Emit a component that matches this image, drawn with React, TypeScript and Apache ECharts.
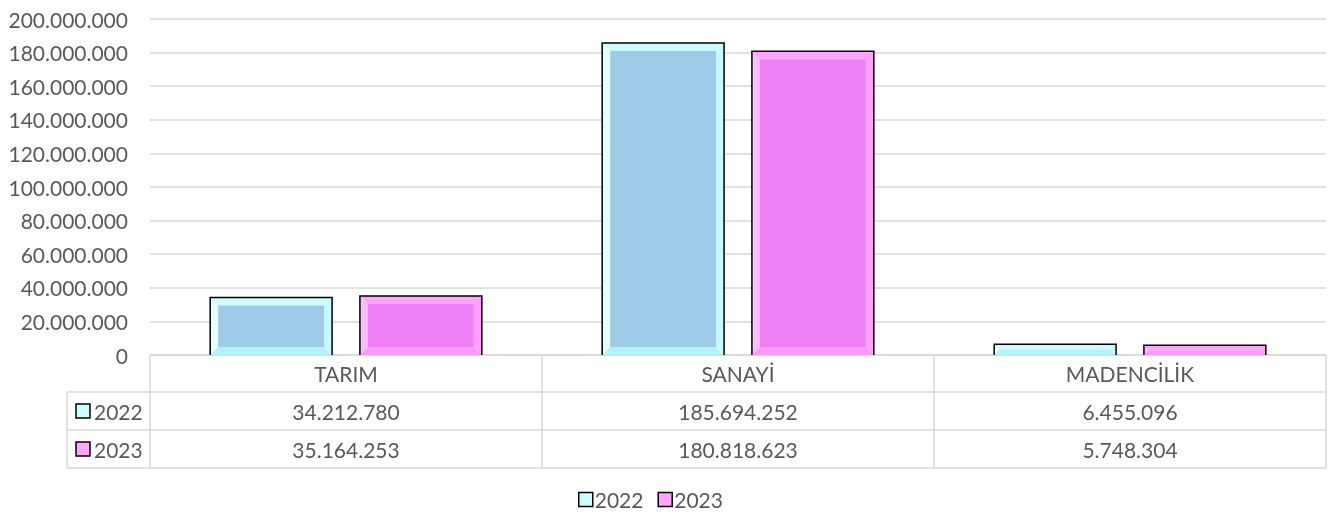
import React, { useEffect, useRef } from "react";
import * as echarts from "echarts";

const categories = ["TARIM", "SANAYİ", "MADENCİLİK"];
const seriesNames = ["2022", "2023"];
const values2022 = [34212780, 185694252, 6455096];
const values2023 = [35164253, 180818623, 5748304];
const yTicks = { min: 0, max: 200000000, interval: 20000000 };

const palettes = [
  { top: "#cdfcff", left: "#e8ffff", right: "#c6f8ff", bottom: "#b6f0fd", inner: "#a0cbe8" },
  { top: "#ffa4ff", left: "#ffbcff", right: "#ffa0ff", bottom: "#f89af8", inner: "#ef7ff5" },
];

const fmt = (n: number) => String(n).replace(/\B(?=(\d{3})+(?!\d))/g, ".");

const FONT = "Lato";
const FS = 21;
const TXT = "#595959";
const GRID = "#d9d9d9";

export default function App() {
  const ref = useRef<HTMLDivElement>(null);
  useEffect(() => {
    if (!ref.current) return;
    const chart = echarts.init(ref.current, null, { renderer: "svg" });

    const makeRender = (sIdx: number) => (params: any, api: any) => {
      const ci = api.value(0);
      const v = api.value(1);
      const base = api.coord([ci, 0]);
      const topPt = api.coord([ci, v]);
      const band = api.size([1, 0])[0];
      const w = band * 0.311;
      const gap = band * 0.071;
      const x = sIdx === 0 ? base[0] - gap / 2 - w : base[0] + gap / 2;
      const y = topPt[1];
      const h = base[1] - topPt[1];
      const d = Math.min(8, h / 2);
      const p = palettes[sIdx];
      return {
        type: "group",
        children: [
          { type: "polygon", shape: { points: [[x, y], [x + w, y], [x + w - d, y + d], [x + d, y + d]] }, style: { fill: p.top } },
          { type: "polygon", shape: { points: [[x, y], [x + d, y + d], [x + d, y + h - d], [x, y + h]] }, style: { fill: p.left } },
          { type: "polygon", shape: { points: [[x + w, y], [x + w, y + h], [x + w - d, y + h - d], [x + w - d, y + d]] }, style: { fill: p.right } },
          { type: "polygon", shape: { points: [[x, y + h], [x + d, y + h - d], [x + w - d, y + h - d], [x + w, y + h]] }, style: { fill: p.bottom } },
          { type: "rect", shape: { x: x + d, y: y + d, width: Math.max(0, w - 2 * d), height: Math.max(0, h - 2 * d) }, style: { fill: p.inner } },
          { type: "polyline", shape: { points: [[x, y + h], [x, y], [x + w, y], [x + w, y + h]] }, style: { fill: "none", stroke: "#000", lineWidth: 1.5 } },
        ],
      };
    };

    const tableLine = (x1: number, y1: number, x2: number, y2: number) => ({
      type: "line",
      shape: { x1, y1, x2, y2 },
      style: { stroke: GRID, lineWidth: 1.5 },
      silent: true,
    });

    const legendKey = (x: number, y: number, p: any) => ({
      type: "rect",
      shape: { x, y, width: 14, height: 14 },
      style: { fill: p.top, stroke: "#000", lineWidth: 1.5 },
    });

    const labelStyle = { color: TXT, fontFamily: FONT, fontSize: FS, lineHeight: 20, interval: 0 };

    chart.setOption({
      animation: false,
      grid: { left: 150, right: 10, top: 19, bottom: 163, containLabel: false },
      xAxis: [
        {
          type: "category",
          data: categories,
          position: "bottom",
          axisLine: { show: true, lineStyle: { color: GRID, width: 1.5 } },
          axisTick: { show: true, length: 113, interval: 0, lineStyle: { color: GRID, width: 1.5 } },
          axisLabel: { margin: 8, ...labelStyle },
        },
        {
          type: "category",
          data: values2022.map(fmt),
          position: "bottom",
          offset: 37,
          axisLine: { show: false },
          axisTick: { show: false },
          axisLabel: { margin: 9, ...labelStyle },
        },
        {
          type: "category",
          data: values2023.map(fmt),
          position: "bottom",
          offset: 75,
          axisLine: { show: false },
          axisTick: { show: false },
          axisLabel: { margin: 9, ...labelStyle },
        },
      ],
      yAxis: {
        type: "value",
        min: yTicks.min,
        max: yTicks.max,
        interval: yTicks.interval,
        axisLine: { show: false },
        axisTick: { show: false },
        splitLine: { lineStyle: { color: GRID, width: 1.5 } },
        axisLabel: { margin: 22, color: TXT, fontFamily: FONT, fontSize: FS, formatter: (v: number) => fmt(v) },
      },
      legend: {
        bottom: 3,
        left: 573,
        itemWidth: 14,
        itemHeight: 14,
        itemGap: 14,
        textStyle: { color: TXT, fontFamily: FONT, fontSize: FS, padding: [0, 0, 0, -3] },
        data: seriesNames.map((n, i) => ({
          name: n,
          icon: "rect",
          itemStyle: { color: palettes[i].top, borderColor: "#000", borderWidth: 1.5 },
        })),
      },
      graphic: [
        tableLine(67, 392, 1326, 392),
        tableLine(67, 430, 1326, 430),
        tableLine(67, 468, 1326, 468),
        tableLine(67, 392, 67, 468),
        legendKey(76, 404, palettes[0]),
        legendKey(76, 442, palettes[1]),
        { type: "text", x: 94, y: 411, style: { text: seriesNames[0], fill: TXT, font: `${FS}px ${FONT}`, textVerticalAlign: "middle" } },
        { type: "text", x: 94, y: 449, style: { text: seriesNames[1], fill: TXT, font: `${FS}px ${FONT}`, textVerticalAlign: "middle" } },
      ],
      series: [
        {
          type: "custom",
          name: seriesNames[0],
          xAxisIndex: 0,
          itemStyle: { color: palettes[0].top },
          renderItem: makeRender(0),
          data: values2022.map((v, i) => [i, v]),
        },
        {
          type: "custom",
          name: seriesNames[1],
          xAxisIndex: 0,
          itemStyle: { color: palettes[1].top },
          renderItem: makeRender(1),
          data: values2023.map((v, i) => [i, v]),
        },
      ],
    });
    return () => chart.dispose();
  }, []);
  return <div ref={ref} style={{ position: "fixed", left: 0, top: 0, width: 1336, height: 518 }} />;
}
